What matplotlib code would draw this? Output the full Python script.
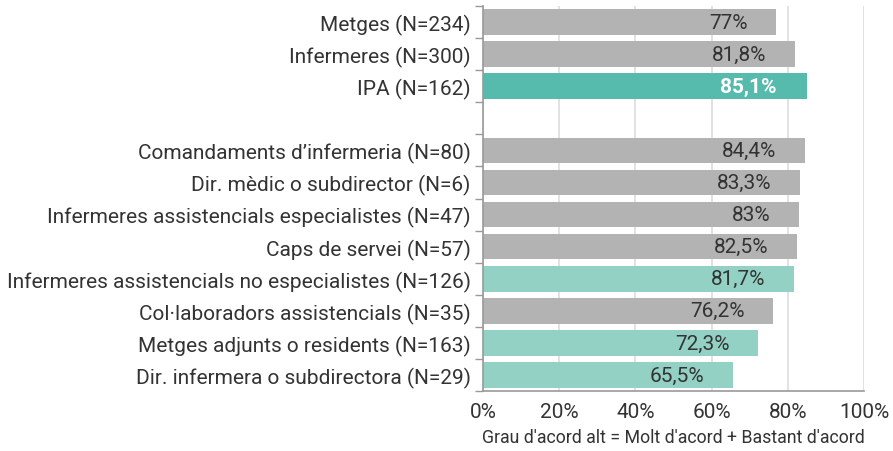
import numpy as np
import matplotlib.pyplot as plt
from matplotlib.ticker import FixedLocator

plt.rcParams['font.family'] = ['Roboto', 'DejaVu Sans']

categories = [
    "Metges (N=234)",
    "Infermeres (N=300)",
    "IPA (N=162)",
    "",
    "Comandaments d\u2019infermeria (N=80)",
    "Dir. mèdic o subdirector (N=6)",
    "Infermeres assistencials especialistes (N=47)",
    "Caps de servei (N=57)",
    "Infermeres assistencials no especialistes (N=126)",
    "Col·laboradors assistencials (N=35)",
    "Metges adjunts o residents (N=163)",
    "Dir. infermera o subdirectora (N=29)",
]
values = [77, 81.8, 85.1, None, 84.4, 83.3, 83, 82.5, 81.7, 76.2, 72.3, 65.5]
labels = ["77%", "81,8%", "85,1%", "", "84,4%", "83,3%", "83%", "82,5%",
          "81,7%", "76,2%", "72,3%", "65,5%"]
kinds = ["grey", "grey", "ipa", None, "grey", "grey", "grey", "grey",
         "teal", "grey", "teal", "teal"]

colors = {"grey": "#b3b3b3", "ipa": "#56bbad", "teal": "#92d1c4"}

fig = plt.figure(figsize=(8.93, 4.52), dpi=100)
ax = fig.add_axes([0.5409, 0.1327, 0.4266, 0.8518])

y = np.arange(len(categories))
for i, (v, lab, k) in enumerate(zip(values, labels, kinds)):
    if v is None:
        continue
    ax.barh(i, v, height=0.8, color=colors[k], zorder=2)
    if k == "ipa":
        ax.text(v - 8.0, i, lab, ha="right", va="center", color="white",
                fontsize=15, fontweight="bold", zorder=3)
    else:
        ax.text(v - 7.5, i, lab, ha="right", va="center", color="#333333",
                fontsize=15, zorder=3)

ax.set_xlim(0, 100)
ax.set_ylim(len(categories) - 0.5, -0.5)
ax.set_xticks(np.arange(0, 101, 20))
ax.set_xticklabels([f"{t}%" for t in range(0, 101, 20)])
ax.set_yticks(y)
ax.set_yticklabels(categories)
ax.yaxis.set_minor_locator(FixedLocator(np.arange(-0.5, len(categories), 1)))

ax.tick_params(axis="y", which="major", length=0, pad=9, labelsize=15,
               labelcolor="#333333")
ax.tick_params(axis="y", which="minor", length=6, color="#999999", width=1)
ax.tick_params(axis="x", length=0, pad=8, labelsize=15, labelcolor="#333333")

ax.grid(axis="x", color="#dddddd", linewidth=1.2, zorder=0)
ax.set_axisbelow(True)
for s in ["top", "right"]:
    ax.spines[s].set_visible(False)
ax.spines["left"].set_color("#999999")
ax.spines["bottom"].set_color("#999999")
ax.spines["left"].set_linewidth(1.2)
ax.spines["bottom"].set_linewidth(1.2)

ax.set_xlabel("Grau d'acord alt = Molt d'acord + Bastant d'acord",
              fontsize=12.8, color="#333333", labelpad=5)

fig.savefig("out.png", dpi=100)
